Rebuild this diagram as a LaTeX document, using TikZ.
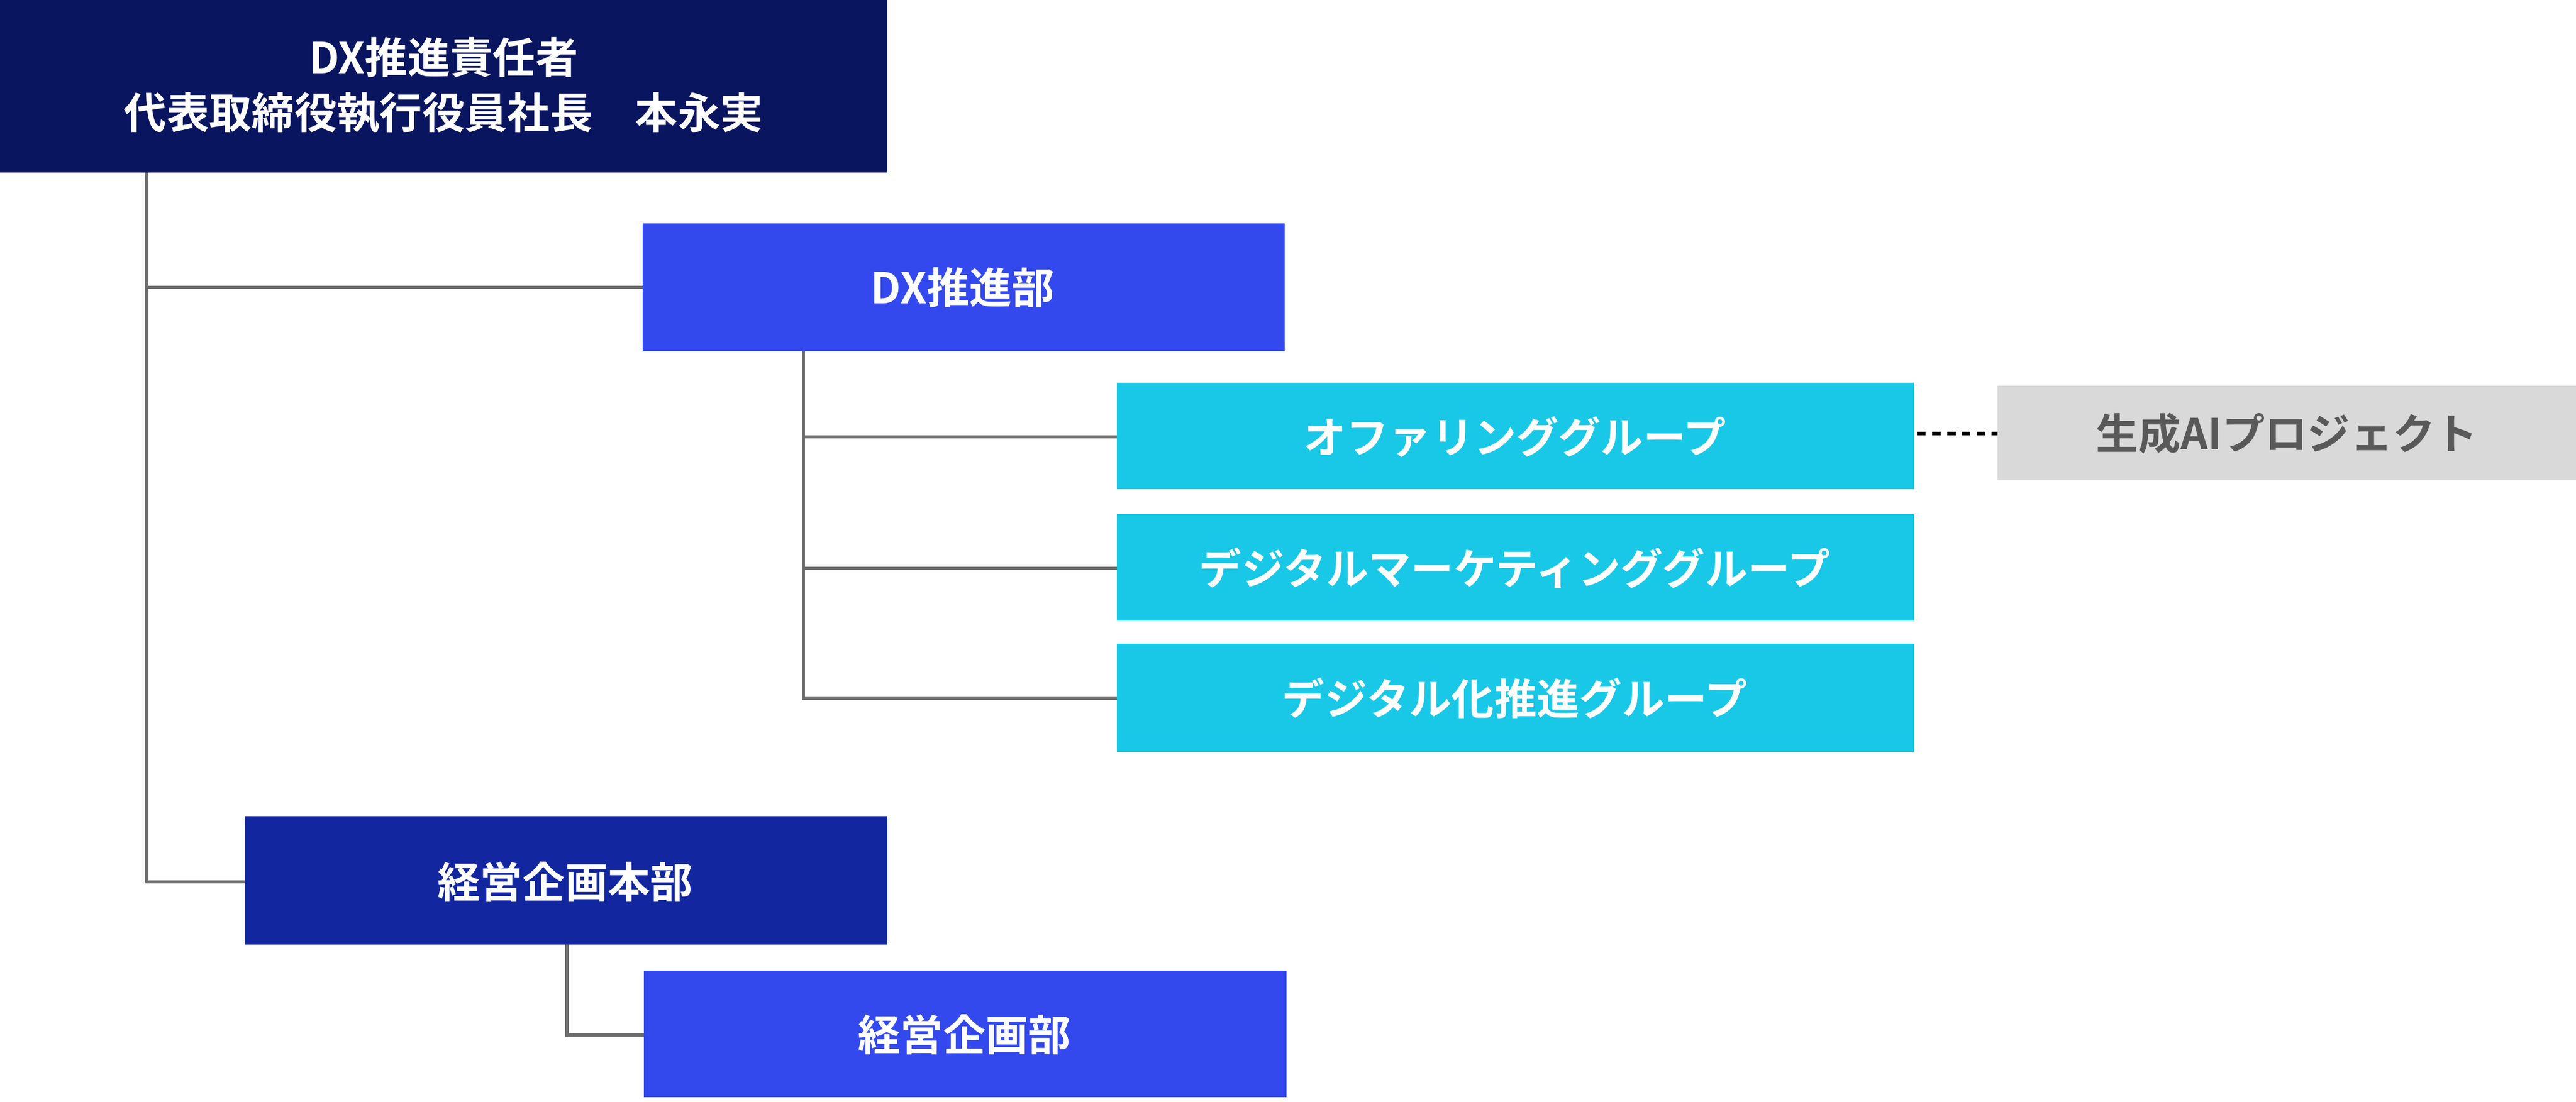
\documentclass[tikz,border=0pt]{standalone}
\usepackage{fontspec}
\setmainfont{Noto Sans CJK JP}[BoldFont={Noto Sans CJK JP Bold}]
\begin{document}
\begin{tikzpicture}[x=0.02712cm,y=-0.02712cm,
  box/.style={fill=#1,draw=none,text=white,font=\fontsize{20}{26}\selectfont\bfseries,align=center,inner sep=0pt},
  ln/.style={draw=gray!85!black,line width=1.6pt}]
\definecolor{navy}{HTML}{0A1560}
\definecolor{navy2}{HTML}{1226A0}
\definecolor{blue1}{HTML}{3349EE}
\definecolor{cyan1}{HTML}{19C8E6}
\definecolor{gr}{HTML}{D9D9D9}
\definecolor{grt}{HTML}{595959}
\useasboundingbox (0,0) rectangle (1568,671);
\fill[navy] (0,0) rectangle (540,105);
\node[box=navy] (top) at (270,52) {DX推進責任者\\代表取締役執行役員社長\quad 本永実};
\path (0,0) rectangle (540,105); \coordinate (topb) at (89,105);
\fill[blue1] (391,136) rectangle (782,214); \node[box=blue1] (dx) at (586,175) {DX推進部};
\fill[cyan1] (680,233) rectangle (1165,298); \node[box=cyan1] (g1) at (922,266) {オファリンググループ};
\fill[cyan1] (680,313) rectangle (1165,378); \node[box=cyan1] (g2) at (922,346) {デジタルマーケティンググループ};
\fill[cyan1] (680,392) rectangle (1165,458); \node[box=cyan1] (g3) at (922,425) {デジタル化推進グループ};
\fill[gr] (1216,235) rectangle (1568,292); \node[box=gr,text=grt] (ai) at (1392,264) {生成AIプロジェクト};
\fill[navy2] (149,497) rectangle (540,575); \node[box=navy2] (kh) at (344,537) {経営企画本部};
\fill[blue1] (392,591) rectangle (783,668); \node[box=blue1] (kb) at (587,630) {経営企画部};
\coordinate (dxb) at (489,214); \coordinate (khb) at (345,575);
\draw[ln] (topb) -- (89,537) -- (149,537);
\draw[ln] (89,175) -- (391,175);
\draw[ln] (dxb) -- (489,425) -- (680,425);
\draw[ln] (489,266) -- (680,266);
\draw[ln] (489,346) -- (680,346);
\draw[ln] (khb) -- (345,630) -- (392,630);
\draw[line width=1.6pt,dashed,dash pattern=on 4pt off 3pt] (1167,264) -- (1216,264);
\end{tikzpicture}
\end{document}
